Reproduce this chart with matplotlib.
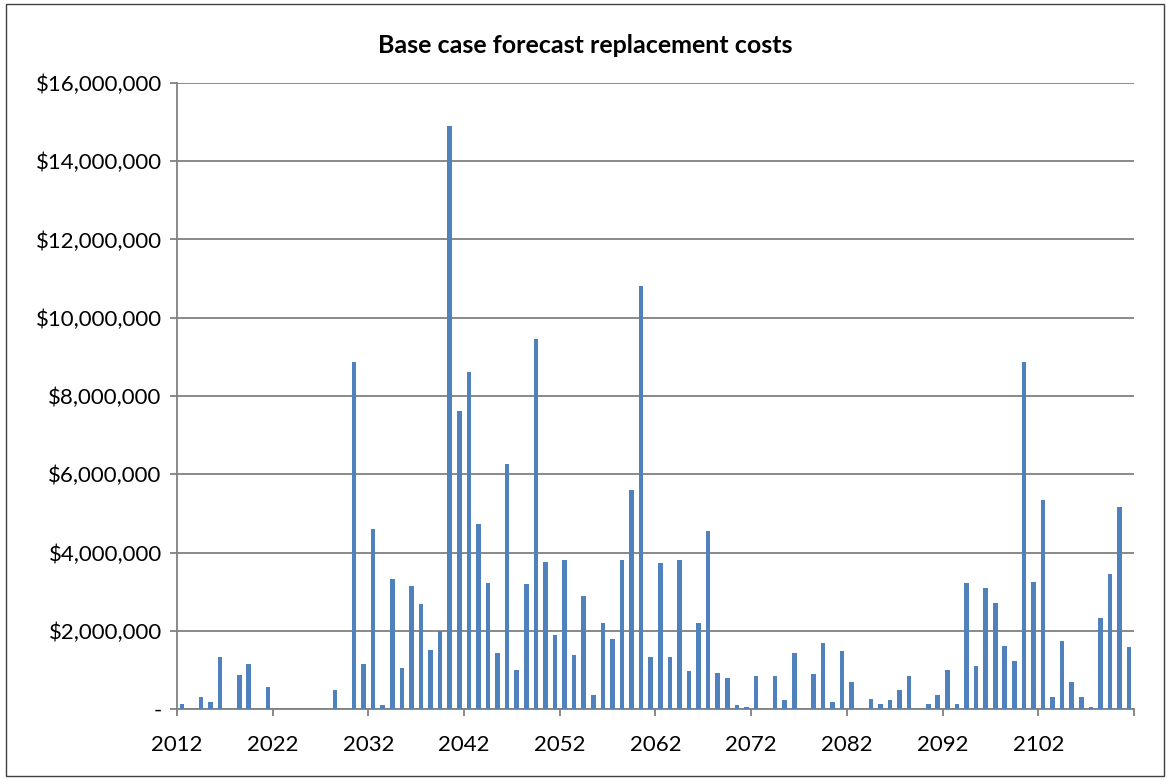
import matplotlib.pyplot as plt
from matplotlib.patches import Rectangle
from matplotlib.ticker import FuncFormatter

plt.rcParams['font.family'] = ['Lato', 'DejaVu Sans']

years = list(range(2012, 2112))

# forecast replacement cost per year, in $ millions
cost_m = [
    0.14, 0, 0.31, 0.18, 1.32, 0, 0.88, 1.15, 0, 0.57,
    0, 0, 0, 0, 0, 0, 0.49, 0, 8.88, 1.15,
    4.60, 0.09, 3.33, 1.06, 3.15, 2.68, 1.50, 2.00, 14.89, 7.62,
    8.62, 4.73, 3.21, 1.44, 6.26, 1.01, 3.20, 9.45, 3.77, 1.88,
    3.81, 1.37, 2.89, 0.37, 2.19, 1.80, 3.81, 5.61, 10.80, 1.32,
    3.73, 1.32, 3.81, 0.97, 2.19, 4.55, 0.92, 0.79, 0.09, 0.05,
    0.84, 0, 0.84, 0.22, 1.44, 0, 0.89, 1.70, 0.18, 1.49,
    0.70, 0, 0.26, 0.14, 0.22, 0.49, 0.84, 0, 0.14, 0.36,
    1.01, 0.14, 3.23, 1.10, 3.10, 2.72, 1.62, 1.23, 8.88, 3.24,
    5.33, 0.31, 1.74, 0.70, 0.31, 0.05, 2.32, 3.46, 5.17, 1.58,
]
cost = [c * 1e6 for c in cost_m]

fig = plt.figure(figsize=(11.7, 7.8), dpi=100)
ax = fig.add_axes([0.1513, 0.0910, 0.8179, 0.8026])

pos = [i + 0.5 for i in range(len(years))]
ax.bar(pos, cost, width=0.48, color='#4F81BD', zorder=3)

ax.set_xlim(0, len(years))
ax.set_ylim(0, 16e6)
ax.set_yticks(range(0, 16000001, 2000000))
ax.yaxis.set_major_formatter(FuncFormatter(lambda v, p: '-' if v == 0 else f'${v:,.0f}'))

ax.set_xticks(range(0, len(years) + 1, 10))
ax.set_xticklabels([str(y) for y in years[::10]] + [''])

ax.grid(axis='y', color='#808080', linewidth=1.3, zorder=0)
for s in ['top', 'right']:
    ax.spines[s].set_visible(False)
for s in ['left', 'bottom']:
    ax.spines[s].set_color('#808080')
    ax.spines[s].set_linewidth(1.3)
ax.tick_params(axis='both', direction='out', length=5, width=1.3, color='#808080',
               labelsize=16, labelcolor='black')
ax.tick_params(axis='x', pad=14)
ax.tick_params(axis='y', pad=6)

fig.text(0.5, 0.942, 'Base case forecast replacement costs', ha='center', va='center',
         fontsize=18, fontweight='bold')

fig.patches.append(Rectangle((0.005, 0.005), 0.99, 0.99, transform=fig.transFigure,
                             fill=False, edgecolor='#404040', linewidth=1))

fig.savefig('out.png', dpi=100)
